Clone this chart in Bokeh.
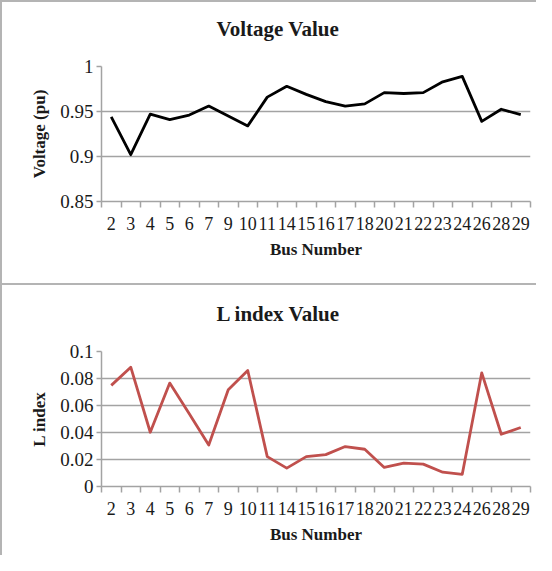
from bokeh.plotting import figure
from bokeh.layouts import column
from bokeh.models import Range1d, FixedTicker, Title
from bokeh.embed import file_html
from bokeh.resources import INLINE

# ---- data ----
buses = ["2", "3", "4", "5", "6", "7", "9", "10", "11", "14", "15", "16",
         "17", "18", "20", "21", "22", "23", "24", "26", "28", "29"]
voltage = [0.944, 0.902, 0.947, 0.941, 0.946, 0.956, 0.945, 0.934, 0.966, 0.978, 0.969,
           0.961, 0.956, 0.9585, 0.971, 0.970, 0.971, 0.983, 0.989, 0.939, 0.9525, 0.9465]
lindex = [0.0749, 0.0884, 0.0402, 0.0766, 0.0538, 0.0307, 0.0716, 0.0859, 0.0221, 0.0136, 0.0221,
          0.0236, 0.0296, 0.0276, 0.0141, 0.0173, 0.0166, 0.0106, 0.0090, 0.0842, 0.0387, 0.0437]
v_ticks = [0.85, 0.9, 0.95, 1.0]
v_tick_labels = ["0.85", "0.9", "0.95", "1"]
l_ticks = [0.0, 0.02, 0.04, 0.06, 0.08, 0.1]
l_tick_labels = ["0", "0.02", "0.04", "0.06", "0.08", "0.1"]

GRID = "#a3a3a3"
BORDER = "#b4b4b4"
FONT = "Liberation Serif"
W = 536
FRAME_L, FRAME_W, FRAME_H = 99, 427, 133


def panel(title, ylabel, values, color, ticks, labels, height, top):
    n = len(buses)
    xs = [i + 0.5 for i in range(n)]
    bottom = height - 2 - top - FRAME_H
    p = figure(width=W, height=height, output_backend="svg", toolbar_location=None,
               x_range=Range1d(0, n), y_range=Range1d(ticks[0], ticks[-1]),
               min_border_left=FRAME_L, min_border_right=W - 2 - FRAME_L - FRAME_W,
               min_border_top=top, min_border_bottom=bottom,
               styles={"border-top": f"2px solid {BORDER}", "border-left": f"2px solid {BORDER}",
                       "box-sizing": "border-box"})
    p.outline_line_color = None
    p.background_fill_color = "white"
    p.border_fill_color = "white"

    # spacer between title and plot area
    p.add_layout(Title(text=" ", text_font_size="8px"), "above")

    # chart title
    p.title.text = title
    p.title.text_font = FONT
    p.title.text_font_size = "21px"
    p.title.text_font_style = "bold"
    p.title.text_color = "#1a1a1a"
    p.title.align = "left"
    p.title.offset = 115

    # data line
    p.line(xs, values, line_color=color, line_width=2.8, line_join="round")

    # x axis: labels at category centers, tick marks at boundaries
    xa = p.xaxis[0]
    xa.ticker = FixedTicker(ticks=xs, minor_ticks=list(range(n + 1)))
    xa.major_label_overrides = {x: b for x, b in zip(xs, buses)}
    xa.major_tick_out = 0
    xa.major_tick_in = 0
    xa.minor_tick_out = 6
    xa.minor_tick_in = 0
    xa.minor_tick_line_color = GRID
    xa.minor_tick_line_width = 1.5
    xa.axis_line_color = GRID
    xa.axis_line_width = 1.5
    xa.major_label_text_font = FONT
    xa.major_label_text_font_size = "18px"
    xa.major_label_text_color = "#1a1a1a"
    xa.major_label_standoff = 9
    xa.axis_label = "Bus Number"
    xa.axis_label_text_font = FONT
    xa.axis_label_text_font_size = "17px"
    xa.axis_label_text_font_style = "bold"
    xa.axis_label_text_color = "#1a1a1a"
    xa.axis_label_standoff = 7

    ya = p.yaxis[0]
    ya.ticker = FixedTicker(ticks=ticks, minor_ticks=[])
    ya.major_label_overrides = {t: s for t, s in zip(ticks, labels)}
    ya.major_tick_out = 5
    ya.major_tick_in = 0
    ya.major_tick_line_color = GRID
    ya.major_tick_line_width = 1.5
    ya.axis_line_color = GRID
    ya.axis_line_width = 1.5
    ya.major_label_text_font = FONT
    ya.major_label_text_font_size = "19px"
    ya.major_label_text_color = "#1a1a1a"
    ya.major_label_standoff = 3
    ya.axis_label = ylabel
    ya.axis_label_text_font = FONT
    ya.axis_label_text_font_size = "17px"
    ya.axis_label_text_font_style = "bold"
    ya.axis_label_text_color = "#1a1a1a"
    ya.axis_label_standoff = 8

    p.xgrid.grid_line_color = None
    p.ygrid.grid_line_color = GRID
    p.ygrid.grid_line_width = 1.5
    return p


p1 = panel("Voltage Value", "Voltage (pu)", voltage, "#000000", v_ticks, v_tick_labels, 283, 64)
p2 = panel("L index Value", "L index", lindex, "#c0504d", l_ticks, l_tick_labels, 272, 66)

layout = column(p1, p2, spacing=0)
open("out.html", "w").write(file_html(layout, INLINE))
